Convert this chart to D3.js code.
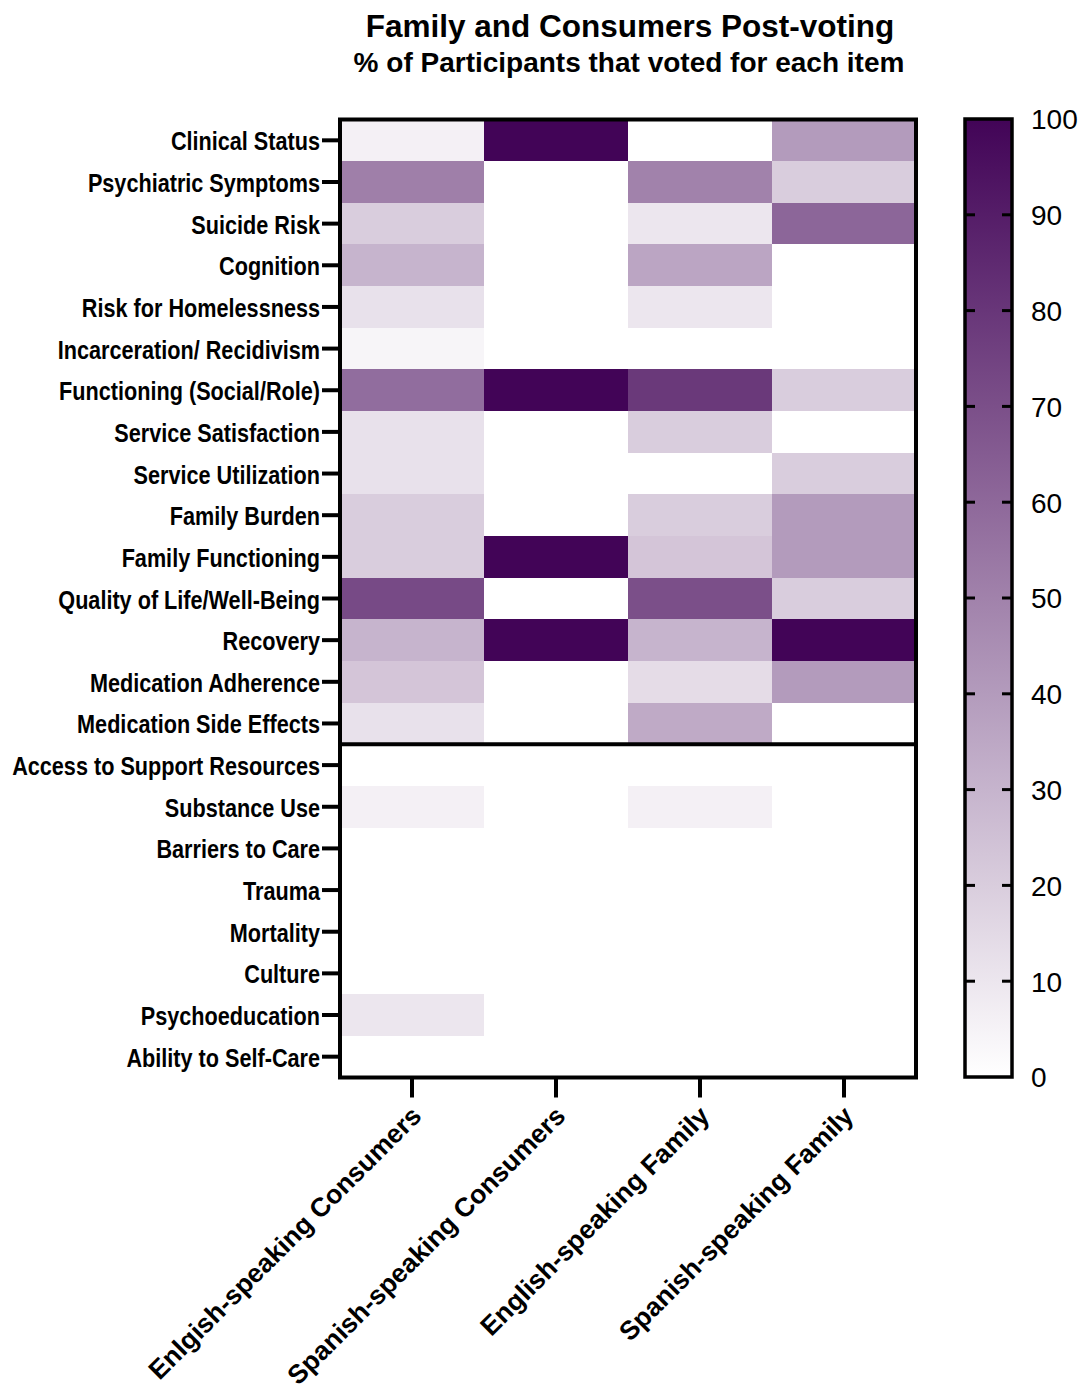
<!DOCTYPE html>
<html>
<head>
<meta charset="utf-8">
<script src="https://cdn.jsdelivr.net/npm/d3@7"></script>
<style>
  body { margin: 0; background: #fff; }
  svg { display: block; }
</style>
</head>
<body>
<svg id="chart" width="1082" height="1384"></svg>
<script>
// ---- data ----
const items = [
  "Clinical Status", "Psychiatric Symptoms", "Suicide Risk", "Cognition",
  "Risk for Homelessness", "Incarceration/ Recidivism", "Functioning (Social/Role)",
  "Service Satisfaction", "Service Utilization", "Family Burden", "Family Functioning",
  "Quality of Life/Well-Being", "Recovery", "Medication Adherence", "Medication Side Effects",
  "Access to Support Resources", "Substance Use", "Barriers to Care", "Trauma",
  "Mortality", "Culture", "Psychoeducation", "Ability to Self-Care"
];
const groups = [
  "Enlgish-speaking Consumers", "Spanish-speaking Consumers",
  "English-speaking Family", "Spanish-speaking Family"
];
const englishConsumers = [6, 51, 20, 30, 12, 4, 58, 12, 12, 20, 20, 72, 30, 23, 12, 0, 6, 0, 0, 0, 0, 10, 0];
const spanishConsumers = [100, 0, 0, 0, 0, 0, 100, 0, 0, 0, 100, 0, 100, 0, 0, 0, 0, 0, 0, 0, 0, 0, 0];
const englishFamily    = [0, 50, 10, 36, 10, 0, 79, 20, 0, 20, 23, 70, 30, 14, 34, 0, 6, 0, 0, 0, 0, 0, 0];
const spanishFamily    = [40, 20, 61, 0, 0, 0, 20, 0, 20, 40, 40, 20, 100, 40, 0, 0, 0, 0, 0, 0, 0, 0, 0];
const colorTicks = [0, 10, 20, 30, 40, 50, 60, 70, 80, 90, 100];
const separatorAfter = "Medication Side Effects";

const seriesList = [englishConsumers, spanishConsumers, englishFamily, spanishFamily];
const cells = [];
groups.forEach((g, gi) => items.forEach((it, ii) => cells.push({ group: g, item: it, value: seriesList[gi][ii] })));

// ---- layout ----
const svg = d3.select("#chart");
const plot = { left: 340, right: 916, top: 119.5, bottom: 1077.5 };
const x = d3.scaleBand().domain(groups).range([plot.left, plot.right]);
const y = d3.scaleBand().domain(items).range([plot.top, plot.bottom]);
const color = d3.scaleLinear().domain([0, 100]).range(["#ffffff", "#420457"]).interpolate(d3.interpolateRgb);

const boldFont = "'Liberation Sans', Arial, Helvetica, sans-serif";
const narrowFont = "'Liberation Sans Narrow', 'Arial Narrow', 'Liberation Sans', Arial, sans-serif";

// title
svg.append("text").attr("x", 630).attr("y", 37).attr("text-anchor", "middle")
  .attr("font-family", boldFont).attr("font-weight", "bold").attr("font-size", 31.5)
  .text("Family and Consumers Post-voting");
svg.append("text").attr("x", 629).attr("y", 72).attr("text-anchor", "middle")
  .attr("font-family", boldFont).attr("font-weight", "bold").attr("font-size", 28)
  .text("% of Participants that voted for each item");

// cells
svg.append("g").selectAll("rect").data(cells).join("rect")
  .attr("x", d => x(d.group)).attr("y", d => y(d.item))
  .attr("width", x.bandwidth()).attr("height", y.bandwidth())
  .attr("fill", d => color(d.value))
  .attr("shape-rendering", "crispEdges");

// frame
svg.append("rect").attr("x", plot.left).attr("y", plot.top)
  .attr("width", plot.right - plot.left).attr("height", plot.bottom - plot.top)
  .attr("fill", "none").attr("stroke", "#000").attr("stroke-width", 4);

// separator
const sepY = y(separatorAfter) + y.bandwidth();
svg.append("line").attr("x1", plot.left).attr("x2", plot.right)
  .attr("y1", sepY).attr("y2", sepY).attr("stroke", "#000").attr("stroke-width", 4);

// y axis
const yAxis = svg.append("g").attr("transform", `translate(${plot.left},0)`)
  .call(d3.axisLeft(y).tickSize(18).tickPadding(2));
yAxis.select(".domain").remove();
yAxis.selectAll(".tick line").attr("stroke", "#000").attr("stroke-width", 4);
yAxis.selectAll(".tick text")
  .attr("font-family", narrowFont).attr("font-weight", "bold").attr("font-size", 25)
  .attr("fill", "#000").attr("y", 2);

// auto-fit narrow font width
(function () {
  const nodes = yAxis.selectAll(".tick text").nodes();
  const ref = nodes[items.indexOf("Access to Support Resources")];
  const w = ref.getComputedTextLength();
  const target = 308;
  const s = target / w;
  if (Math.abs(s - 1) > 0.03) {
    yAxis.selectAll(".tick text").each(function () {
      const t = d3.select(this);
      const tx = +t.attr("x");
      t.attr("transform", `translate(${tx},0) scale(${s},1) translate(${-tx},0)`);
    });
  }
})();

// x axis
const xAxis = svg.append("g").attr("transform", `translate(0,${plot.bottom})`)
  .call(d3.axisBottom(x).tickSize(20).tickPadding(0));
xAxis.select(".domain").remove();
xAxis.selectAll(".tick line").attr("stroke", "#000").attr("stroke-width", 4);
xAxis.selectAll(".tick text")
  .attr("font-family", boldFont).attr("font-weight", "bold").attr("font-size", 26.5)
  .attr("fill", "#000")
  .attr("text-anchor", "end")
  .attr("y", 0).attr("dy", 0)
  .attr("transform", "translate(11,40) rotate(-45)");

// color bar
const cb = { x: 965, w: 47, top: 119, bottom: 1077 };
const cScale = d3.scaleLinear().domain([0, 100]).range([cb.bottom, cb.top]);
const defs = svg.append("defs");
const grad = defs.append("linearGradient").attr("id", "cbgrad")
  .attr("x1", 0).attr("y1", 1).attr("x2", 0).attr("y2", 0);
colorTicks.forEach(v => grad.append("stop").attr("offset", v / 100).attr("stop-color", color(v)));
svg.append("rect").attr("x", cb.x).attr("y", cb.top).attr("width", cb.w).attr("height", cb.bottom - cb.top)
  .attr("fill", "url(#cbgrad)").attr("stroke", "#000").attr("stroke-width", 3.5);

const cbAxis = svg.append("g").attr("transform", `translate(${cb.x + cb.w},0)`)
  .call(d3.axisRight(cScale).tickValues(colorTicks).tickSize(0).tickPadding(19));
cbAxis.select(".domain").remove();
cbAxis.selectAll(".tick text").attr("font-family", boldFont).attr("font-size", 28).attr("fill", "#000").attr("y", 1);
// inner tick marks on both edges
const innerTicks = colorTicks.filter(v => v !== 0 && v !== 100);
svg.append("g").selectAll("line.l").data(innerTicks).join("line")
  .attr("x1", cb.x).attr("x2", cb.x + 10).attr("y1", d => cScale(d)).attr("y2", d => cScale(d))
  .attr("stroke", "#000").attr("stroke-width", 3);
svg.append("g").selectAll("line.r").data(innerTicks).join("line")
  .attr("x1", cb.x + cb.w - 10).attr("x2", cb.x + cb.w).attr("y1", d => cScale(d)).attr("y2", d => cScale(d))
  .attr("stroke", "#000").attr("stroke-width", 3);
</script>
</body>
</html>
